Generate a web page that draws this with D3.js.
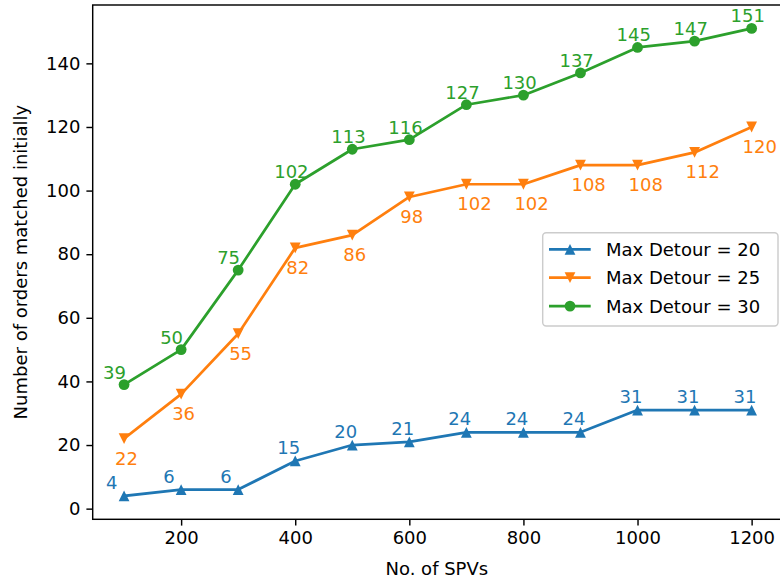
<!DOCTYPE html>
<html><head><meta charset="utf-8">
<script src="https://cdn.jsdelivr.net/npm/d3@7"></script>
<style>html,body{margin:0;padding:0;background:#fff}svg{display:block}text{font-family:"DejaVu Sans",sans-serif}</style>
</head><body><svg id="c" width="780" height="582"></svg>
<script>
const spvs = [100,200,300,400,500,600,700,800,900,1000,1100,1200];
const detour20 = [4,6,6,15,20,21,24,24,24,31,31,31];
const detour25 = [22,36,55,82,86,98,102,102,108,108,112,120];
const detour30 = [39,50,75,102,113,116,127,130,137,145,147,151];
const seriesNames = ["Max Detour = 20","Max Detour = 25","Max Detour = 30"];
const colors = ["#1f77b4","#ff7f0e","#2ca02c"];
const xTicks = [200,400,600,800,1000,1200];
const yTicks = [0,20,40,60,80,100,120,140];

const L=92.7, R=783, T=5, B=519.3;
const FS=18;
const svg = d3.select("#c");
const x = d3.scaleLinear().domain([45,1255]).range([L,R]);
const y = d3.scaleLinear().domain([-3.35,158.35]).range([B,T]);

// axes
const xAxis = svg.append("g").attr("transform",`translate(0,${B})`)
  .call(d3.axisBottom(x).tickValues(xTicks).tickSize(6.3).tickPadding(6).tickFormat(d3.format("d")));
const yAxis = svg.append("g").attr("transform",`translate(${L},0)`)
  .call(d3.axisLeft(y).tickValues(yTicks).tickSize(6.3).tickPadding(6).tickFormat(d3.format("d")));
[xAxis,yAxis].forEach(a=>{
  a.select(".domain").remove();
  a.selectAll(".tick line").attr("stroke","#000").attr("stroke-width",1.44);
  a.selectAll(".tick text").attr("fill","#000").attr("font-size",FS).attr("font-family","DejaVu Sans");
});
// spines
svg.append("rect").attr("x",L).attr("y",T).attr("width",R-L).attr("height",B-T)
  .attr("fill","none").attr("stroke","#000").attr("stroke-width",1.44);

// axis labels
svg.append("text").attr("x",(L+R)/2-1).attr("y",575).attr("text-anchor","middle")
  .attr("font-size",FS).text("No. of SPVs");
svg.append("text").attr("transform",`translate(27,${(T+B)/2}) rotate(-90)`).attr("text-anchor","middle")
  .attr("font-size",FS).text("Number of orders matched initially");

const data = [detour20,detour25,detour30];
const markerSize = 10.8;
function drawMarker(g, i, cx, cy){
  const h = markerSize/2;
  if(i===0) g.append("path").attr("d",`M${cx},${cy-h}L${cx-h},${cy+h}L${cx+h},${cy+h}Z`).attr("fill",colors[i]);
  else if(i===1) g.append("path").attr("d",`M${cx},${cy+h}L${cx-h},${cy-h}L${cx+h},${cy-h}Z`).attr("fill",colors[i]);
  else g.append("circle").attr("cx",cx).attr("cy",cy).attr("r",h).attr("fill",colors[i]);
}
const line = d3.line().x((d,j)=>x(spvs[j])).y(d=>y(d));
const labelOff = [{dx:-18,dy:-7},{dx:-9,dy:26},{dx:-21,dy:-6}];
data.forEach((vals,i)=>{
  const g = svg.append("g");
  g.append("path").datum(vals).attr("d",line).attr("fill","none").attr("stroke",colors[i])
    .attr("stroke-width",2.7).attr("stroke-linejoin","round").attr("stroke-linecap","square");
  vals.forEach((v,j)=>drawMarker(g,i,x(spvs[j]),y(v)));
  vals.forEach((v,j)=>{
    g.append("text").attr("x",x(spvs[j])+labelOff[i].dx).attr("y",y(v)+labelOff[i].dy)
      .attr("font-size",FS).attr("fill",colors[i]).text(v);
  });
});

// legend
const lg = svg.append("g");
lg.append("rect").attr("x",542.7).attr("y",232.7).attr("width",235.3).attr("height",93.3)
  .attr("rx",3.5).attr("fill","#fff").attr("fill-opacity",0.8).attr("stroke","#cccccc").attr("stroke-width",1.44);
seriesNames.forEach((name,i)=>{
  const ly = 249.3 + i*28.4;
  lg.append("line").attr("x1",549).attr("x2",590.7).attr("y1",ly).attr("y2",ly)
    .attr("stroke",colors[i]).attr("stroke-width",2.7);
  drawMarker(lg,i,570,ly);
  lg.append("text").attr("x",606).attr("y",ly+6.5).attr("font-size",FS).attr("fill","#000").text(name);
});
</script></body></html>
